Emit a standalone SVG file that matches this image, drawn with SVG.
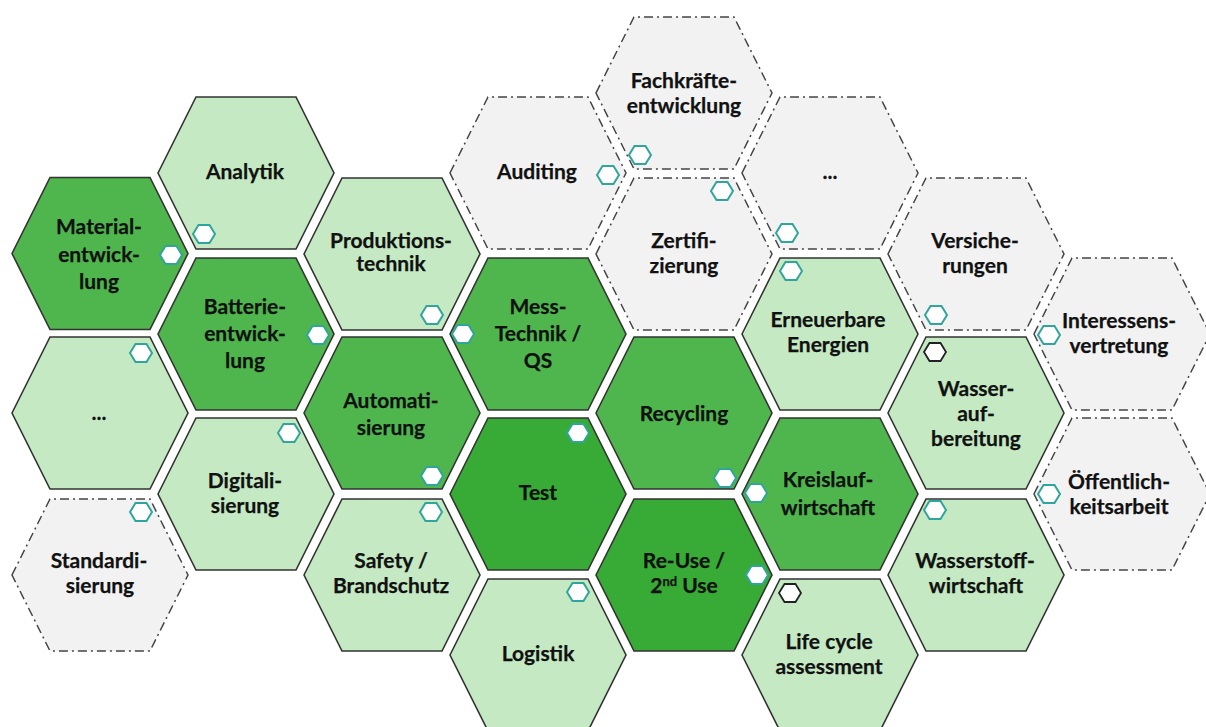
<svg xmlns="http://www.w3.org/2000/svg" width="1206" height="727" viewBox="0 0 1206 727">
<style>
text{font-family:"Lato","Liberation Sans",sans-serif;font-weight:700;font-size:21px;fill:#111;stroke:#111;stroke-width:.25;text-anchor:middle}
.sup{font-size:13px}
.hex{stroke:#333;stroke-width:1.6;stroke-linejoin:miter}
.d1{fill:#38ab36}.d2{fill:#4fb64d}.l{fill:#c5e9c3}
.g{fill:#f2f2f2;stroke:#444;stroke-width:1.5;stroke-dasharray:9 4 2 4}
.m{fill:#fff;stroke:#2fa59b;stroke-width:2}
.mk{fill:#fff;stroke:#222;stroke-width:1.8}
</style>
<defs>
<polygon id="h" points="-88,0 -50,-76 50,-76 88,0 50,76 -50,76"/>
<polygon id="s" points="-11,0 -5.500,-9 5.500,-9 11,0 5.500,9 -5.500,9"/>
</defs>
<g id="connectors"/>
<g id="n-fach"><use href="#h" x="684" y="93" class="g"/><text x="684" y="88">Fachkräfte-</text><text x="684" y="113">entwicklung</text><use href="#s" x="640" y="155" class="m"/></g>
<g id="n-auditing"><use href="#h" x="538" y="173" class="g"/><text x="537" y="179">Auditing</text><use href="#s" x="608" y="175" class="m"/></g>
<g id="n-dots-top"><use href="#h" x="830" y="173" class="g"/><text x="830" y="179">...</text><use href="#s" x="787" y="233" class="m"/></g>
<g id="n-zert"><use href="#h" x="684" y="254" class="g"/><text x="684" y="248">Zertifi-</text><text x="684" y="273">zierung</text><use href="#s" x="722" y="191" class="m"/></g>
<g id="n-vers"><use href="#h" x="976" y="254" class="g"/><text x="975" y="248">Versiche-</text><text x="975" y="273">rungen</text><use href="#s" x="936" y="315" class="m"/></g>
<g id="n-inter"><use href="#h" x="1122" y="334" class="g"/><text x="1119" y="328">Interessens-</text><text x="1119" y="353">vertretung</text><use href="#s" x="1049" y="335" class="m"/></g>
<g id="n-oeff"><use href="#h" x="1122" y="494" class="g"/><text x="1119" y="489">Öffentlich-</text><text x="1119" y="514">keitsarbeit</text><use href="#s" x="1049" y="494" class="m"/></g>
<g id="n-standard"><use href="#h" x="100" y="575" class="g"/><text x="99" y="568">Standardi-</text><text x="100" y="593">sierung</text><use href="#s" x="141" y="512" class="m"/></g>
<g id="n-analytik"><use href="#h" x="246" y="173" class="hex l"/><text x="245" y="179">Analytik</text><use href="#s" x="204" y="234" class="m"/></g>
<g id="n-material"><use href="#h" x="100" y="253.500" class="hex d2"/><text x="99" y="234">Material-</text><text x="99" y="262">entwick-</text><text x="99" y="289">lung</text><use href="#s" x="171" y="255" class="m"/></g>
<g id="n-dots-left"><use href="#h" x="100" y="413" class="hex l"/><text x="99" y="420">...</text><use href="#s" x="141" y="353" class="m"/></g>
<g id="n-batterie"><use href="#h" x="246" y="334" class="hex d2"/><text x="245" y="314">Batterie-</text><text x="245" y="341">entwick-</text><text x="245" y="368">lung</text><use href="#s" x="318" y="335" class="m"/></g>
<g id="n-digital"><use href="#h" x="246" y="494" class="hex l"/><text x="245" y="488">Digitali-</text><text x="245" y="513">sierung</text><use href="#s" x="289" y="433" class="m"/></g>
<g id="n-prod"><use href="#h" x="392" y="254" class="hex l"/><text x="391" y="248">Produktions-</text><text x="391" y="271">technik</text><use href="#s" x="432" y="315" class="m"/></g>
<g id="n-autom"><use href="#h" x="392" y="413" class="hex d2"/><text x="391" y="408">Automati-</text><text x="391" y="435">sierung</text><use href="#s" x="432" y="476" class="m"/></g>
<g id="n-safety"><use href="#h" x="392" y="575" class="hex l"/><text x="391" y="568">Safety /</text><text x="391" y="593">Brandschutz</text><use href="#s" x="431" y="512" class="m"/></g>
<g id="n-mess"><use href="#h" x="538" y="334" class="hex d2"/><text x="538" y="314">Mess-</text><text x="538" y="341">Technik /</text><text x="538" y="368">QS</text><use href="#s" x="463" y="334" class="m"/></g>
<g id="n-test"><use href="#h" x="538" y="494" class="hex d1"/><text x="538" y="500">Test</text><use href="#s" x="578" y="433" class="m"/></g>
<g id="n-logistik"><use href="#h" x="538" y="655" class="hex l"/><text x="538" y="661">Logistik</text><use href="#s" x="578" y="592" class="m"/></g>
<g id="n-recycling"><use href="#h" x="684" y="413" class="hex d2"/><text x="684" y="421">Recycling</text><use href="#s" x="725" y="478" class="m"/></g>
<g id="n-reuse"><use href="#h" x="684" y="575" class="hex d1"/><text x="684" y="568">Re-Use /</text><text x="684" y="593">2<tspan class="sup" dy="-7">nd</tspan><tspan dy="7"> Use</tspan></text><use href="#s" x="757" y="575" class="m"/></g>
<g id="n-erneuer"><use href="#h" x="830" y="334" class="hex l"/><text x="828" y="327">Erneuerbare</text><text x="828" y="352">Energien</text><use href="#s" x="791" y="271" class="m"/></g>
<g id="n-kreis"><use href="#h" x="830" y="494" class="hex d2"/><text x="828" y="487">Kreislauf-</text><text x="828" y="515">wirtschaft</text><use href="#s" x="756" y="493" class="m"/></g>
<g id="n-life"><use href="#h" x="830" y="655" class="hex l"/><text x="829" y="649">Life cycle</text><text x="829" y="674">assessment</text><use href="#s" x="790" y="593" class="mk"/></g>
<g id="n-wasser"><use href="#h" x="976" y="413" class="hex l"/><text x="976" y="396">Wasser-</text><text x="976" y="421">auf-</text><text x="976" y="446">bereitung</text><use href="#s" x="935" y="352" class="mk"/></g>
<g id="n-wasserstoff"><use href="#h" x="976" y="575" class="hex l"/><text x="975" y="568">Wasserstoff-</text><text x="976" y="593">wirtschaft</text><use href="#s" x="935" y="510" class="m"/></g>
</svg>
